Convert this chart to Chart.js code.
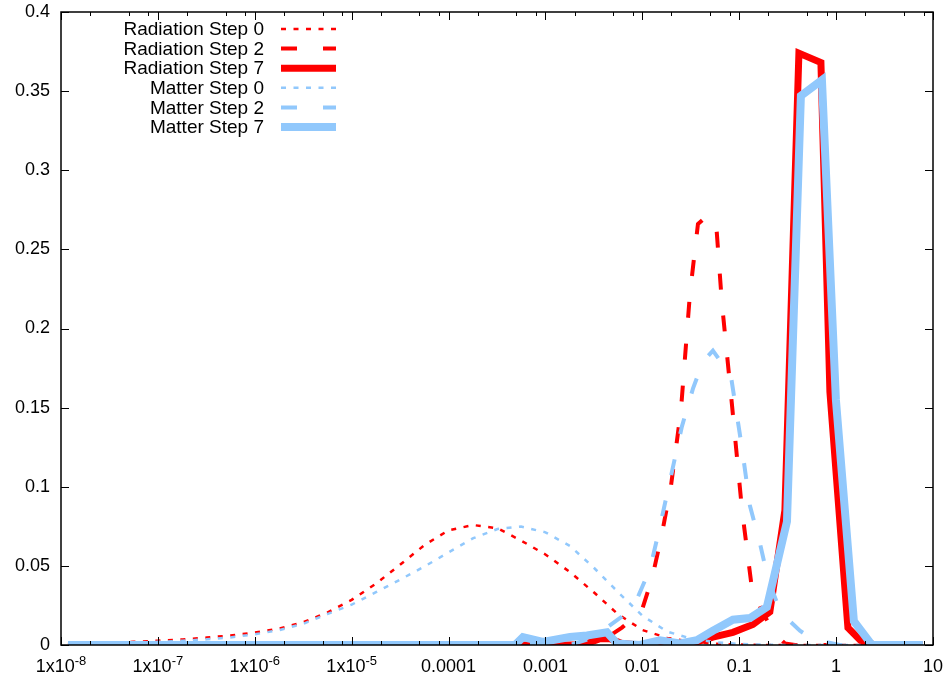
<!DOCTYPE html>
<html>
<head>
<meta charset="utf-8">
<script src="https://cdn.jsdelivr.net/npm/chart.js@4.4.0/dist/chart.umd.min.js"></script>
<style>
  html, body { margin: 0; padding: 0; background: #fff; }
  #wrap { width: 945px; height: 674px; }
</style>
</head>
<body>
<div id="wrap"><canvas id="spectrumChart" width="945" height="674"></canvas></div>
<script>
// axis ticks (x labels are "1x10" plus a raised exponent where needed)
const xTicks = [1e-8, 1e-7, 1e-6, 1e-5, 1e-4, 1e-3, 1e-2, 1e-1, 1, 10];
const xTickLabels = ['1x10', '1x10', '1x10', '1x10', '0.0001', '0.001', '0.01', '0.1', '1', '10'];
const xTickSups = ['-8', '-7', '-6', '-5', '', '', '', '', '', ''];
const xMinorSteps = [2, 5, 8];
const yTicks = [0, 0.05, 0.1, 0.15, 0.2, 0.25, 0.3, 0.35, 0.4];
const yTickLabels = ['0', '0.05', '0.1', '0.15', '0.2', '0.25', '0.3', '0.35', '0.4'];

const seriesNames = ['Radiation Step 0', 'Radiation Step 2', 'Radiation Step 7',
                     'Matter Step 0', 'Matter Step 2', 'Matter Step 7'];

// step 0 curves share one grid
const step0X = [1.18e-8, 1.8e-8, 3.2e-8, 5.6e-8, 1e-7, 1.8e-7, 3.2e-7, 5.6e-7, 1e-6, 1.8e-6,
                3.2e-6, 5.6e-6, 1e-5, 1.8e-5, 3.2e-5, 5.6e-5, 1e-4, 1.8e-4, 3.2e-4, 5.6e-4,
                1e-3, 1.8e-3, 3.2e-3, 5.6e-3, 1e-2, 1.8e-2, 3.2e-2, 5.6e-2, 0.1, 0.18,
                0.32, 0.56, 1, 1.8, 3.2, 5.6, 7.87];
const radStep0 = [0.0008, 0.0011, 0.0015, 0.002, 0.0027, 0.0035, 0.0047, 0.006, 0.0079, 0.0104,
                  0.0145, 0.0205, 0.0285, 0.039, 0.051, 0.063, 0.0725, 0.0758, 0.0738, 0.066,
                  0.0572, 0.046, 0.033, 0.0195, 0.0095, 0.0045, 0.002, 0.0008, 0.0003, 0,
                  0, 0, 0, 0, 0, 0, 0];
const matStep0 = [0.0006, 0.0008, 0.0011, 0.0015, 0.002, 0.0027, 0.0036, 0.0048, 0.0068, 0.0094,
                  0.0135, 0.0195, 0.0255, 0.0335, 0.0415, 0.0495, 0.0585, 0.0675, 0.0733, 0.0748,
                  0.0712, 0.0625, 0.0485, 0.0335, 0.0185, 0.0085, 0.004, 0.0018, 0.0007, 0.0002,
                  0, 0, 0, 0, 0, 0, 0];

const radStep2X = [1.18e-8, 2.88e-3, 3.92e-3, 6.16e-3, 9.9e-3, 1.26e-2, 1.59e-2, 1.97e-2, 2.5e-2, 3.1e-2,
                   3.75e-2, 4.43e-2, 5.75e-2, 6.63e-2, 8.41e-2, 0.107, 0.135, 0.176, 0.234, 0.296,
                   0.376, 7.87];
const radStep2 = [0, 0, 0.003, 0.011, 0.022, 0.042, 0.07, 0.1, 0.148, 0.222,
                  0.266, 0.27, 0.268, 0.216, 0.152, 0.085, 0.036, 0.02, 0.007, 0.001,
                  0, 0];

const matStep2X = [1.18e-8, 1.79e-3, 2.88e-3, 4.31e-3, 6.16e-3, 8.8e-3, 1.2e-2, 1.52e-2, 1.93e-2, 2.56e-2,
                   3.33e-2, 4.22e-2, 5.35e-2, 8.21e-2, 0.107, 0.129, 0.164, 0.198, 0.251, 0.334,
                   0.423, 0.563, 0.766, 1.09, 7.87];
const matStep2 = [0, 0, 0.004, 0.011, 0.018, 0.029, 0.048, 0.075, 0.104, 0.138,
                  0.162, 0.179, 0.186, 0.17, 0.124, 0.088, 0.064, 0.042, 0.025, 0.015,
                  0.009, 0.004, 0.002, 0, 0];

const radStep7X = [1.18e-8, 2.44e-3, 3.65e-3, 4.63e-3, 6.16e-3, 9.45e-3, 2.44e-2, 3.66e-2, 5.35e-2, 8.61e-2,
                   0.1385, 0.207, 0.296, 0.413, 0.697, 0.863, 1.324, 1.846, 2.575, 7.87];
const radStep7 = [0, 0, 0.004, 0.004, 0.001, 0, 0, 0.002, 0.005, 0.008,
                  0.013, 0.021, 0.085, 0.374, 0.368, 0.16, 0.011, 0.002, 0, 0];

const matStep7X = [1.18e-8, 4.84e-4, 5.86e-4, 9.42e-4, 1.79e-3, 2.68e-3, 4.31e-3, 5.47e-3, 9.45e-3, 1.52e-2,
                   2.44e-2, 3.66e-2, 5.35e-2, 8.61e-2, 0.129, 0.193, 0.311, 0.433, 0.714, 0.995,
                   1.526, 2.34, 7.87];
const matStep7 = [0, 0, 0.005, 0.002, 0.005, 0.006, 0.008, 0.001, 0, 0.003,
                  0.001, 0.003, 0.009, 0.016, 0.017, 0.024, 0.078, 0.347, 0.357, 0.155,
                  0.015, 0, 0];

const RED = '#ff0000';
const BLUE = '#91c8fc';
const FONT = "'Liberation Sans', Arial, sans-serif";
const FONT_SIZE = 18;
const SUP_SIZE = 13;

function toPoints(xs, ys) {
    return xs.map((x, i) => ({x: x, y: ys[i]}));
}

function makeSet(label, xs, ys, color, width, dash, order) {
    return {
        label: label,
        data: toPoints(xs, ys),
        borderColor: color,
        backgroundColor: color,
        borderWidth: width,
        borderDash: dash,
        borderCapStyle: 'butt',
        borderJoinStyle: 'miter',
        showLine: true,
        fill: false,
        tension: 0,
        pointRadius: 0,
        pointHoverRadius: 0,
        order: order
    };
}

// later in gnuplot = drawn on top, so lower order here
let datasets = [
    makeSet(seriesNames[0], step0X, radStep0, RED, 2.5, [5, 7.5], 6),
    makeSet(seriesNames[1], radStep2X, radStep2, RED, 4, [16, 26], 5),
    makeSet(seriesNames[2], radStep7X, radStep7, RED, 7, [], 4),
    makeSet(seriesNames[3], step0X, matStep0, BLUE, 2.5, [5, 7.5], 3),
    makeSet(seriesNames[4], matStep2X, matStep2, BLUE, 4, [16, 26], 2),
    makeSet(seriesNames[5], matStep7X, matStep7, BLUE, 8, [], 1)
];

// border and inward ticks, like gnuplot
const frameAndTicks = {
    id: 'frameAndTicks',
    afterDatasetsDraw(chart) {
        const {ctx, chartArea: a, scales: {x, y}} = chart;
        ctx.save();
        ctx.strokeStyle = '#000';
        ctx.lineWidth = 1;
        ctx.setLineDash([]);
        ctx.beginPath();
        xTicks.forEach((v, i) => {
            let px = Math.round(x.getPixelForValue(v)) + 0.5;
            ctx.moveTo(px, a.bottom); ctx.lineTo(px, a.bottom - 8);
            ctx.moveTo(px, a.top); ctx.lineTo(px, a.top + 8);
            if (i < xTicks.length - 1) {
                xMinorSteps.forEach(m => {
                    let mx = Math.round(x.getPixelForValue(v * m)) + 0.5;
                    ctx.moveTo(mx, a.bottom); ctx.lineTo(mx, a.bottom - 4);
                    ctx.moveTo(mx, a.top); ctx.lineTo(mx, a.top + 4);
                });
            }
        });
        yTicks.forEach(v => {
            let py = Math.round(y.getPixelForValue(v)) + 0.5;
            ctx.moveTo(a.left, py); ctx.lineTo(a.left + 8, py);
            ctx.moveTo(a.right, py); ctx.lineTo(a.right - 8, py);
        });
        ctx.stroke();
        ctx.lineWidth = 1.5;
        ctx.strokeRect(a.left, a.top, a.right - a.left, a.bottom - a.top);
        ctx.restore();
    }
};

// x tick labels with superscript exponents, placed by the x scale
const xTickText = {
    id: 'xTickText',
    afterDraw(chart) {
        const {ctx, chartArea: a, scales: {x}} = chart;
        ctx.save();
        ctx.fillStyle = '#000';
        ctx.textAlign = 'left';
        ctx.textBaseline = 'alphabetic';
        xTicks.forEach((v, i) => {
            let base = xTickLabels[i];
            let sup = xTickSups[i];
            ctx.font = FONT_SIZE + 'px ' + FONT;
            let wb = ctx.measureText(base).width;
            ctx.font = SUP_SIZE + 'px ' + FONT;
            let ws = sup ? ctx.measureText(sup).width : 0;
            let left = x.getPixelForValue(v) - (wb + ws) / 2;
            ctx.font = FONT_SIZE + 'px ' + FONT;
            ctx.fillText(base, left, a.bottom + 27);
            if (sup) {
                ctx.font = SUP_SIZE + 'px ' + FONT;
                ctx.fillText(sup, left + wb, a.bottom + 20);
            }
        });
        ctx.restore();
    }
};

// key in the top left, text right aligned with the line sample after it
const keyBox = {
    id: 'keyBox',
    afterDraw(chart) {
        const ctx = chart.ctx;
        ctx.save();
        ctx.font = '19px ' + FONT;
        ctx.textAlign = 'right';
        ctx.textBaseline = 'middle';
        chart.data.datasets.forEach((ds, i) => {
            let rowY = 29 + i * 19.6;
            ctx.fillStyle = '#000';
            ctx.fillText(ds.label, 264, rowY + 1);
            ctx.strokeStyle = ds.borderColor;
            ctx.lineWidth = ds.borderWidth;
            ctx.lineCap = 'butt';
            ctx.setLineDash(ds.borderDash);
            ctx.beginPath();
            ctx.moveTo(281, rowY);
            ctx.lineTo(336, rowY);
            ctx.stroke();
        });
        ctx.restore();
    }
};

Chart.defaults.font.family = FONT;
Chart.defaults.font.size = FONT_SIZE;
Chart.defaults.color = '#000';

let spectrumChart = new Chart(document.getElementById('spectrumChart'), {
    type: 'scatter',
    data: {datasets: datasets},
    options: {
        responsive: false,
        animation: false,
        layout: {padding: {left: 0, right: 12, top: 12, bottom: 0}},
        scales: {
            x: {
                type: 'logarithmic',
                min: 1e-8,
                max: 10,
                grid: {display: false, drawTicks: false},
                border: {display: false},
                ticks: {display: false, autoSkip: false},
                afterBuildTicks: scale => {
                    scale.ticks = xTicks.map(v => ({value: v}));
                },
                afterFit: scale => {
                    scale.height = 29;
                    scale.paddingLeft = 0;
                    scale.paddingRight = 0;
                }
            },
            y: {
                type: 'linear',
                min: 0,
                max: 0.4,
                grid: {display: false, drawTicks: false},
                border: {display: false},
                ticks: {
                    padding: 11,
                    color: '#000',
                    callback: (v, i) => yTickLabels[i]
                },
                afterBuildTicks: scale => {
                    scale.ticks = yTicks.map(v => ({value: v}));
                },
                afterFit: scale => {
                    scale.width = 61;
                    scale.paddingTop = 0;
                    scale.paddingBottom = 0;
                }
            }
        },
        plugins: {
            legend: {display: false},
            tooltip: {enabled: false}
        }
    },
    plugins: [frameAndTicks, xTickText, keyBox]
});
</script>
</body>
</html>
